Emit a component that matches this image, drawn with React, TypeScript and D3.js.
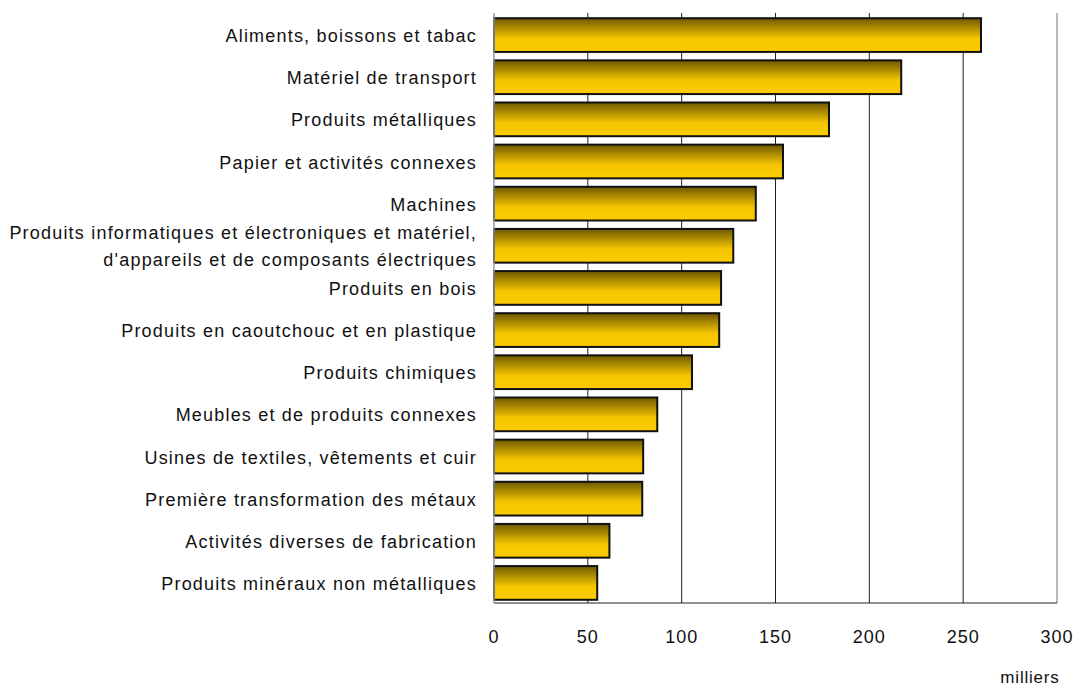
import React from "react";
import * as d3 from "d3";

const categories: string[][] = [
  ["Aliments, boissons et tabac"],
  ["Matériel de transport"],
  ["Produits métalliques"],
  ["Papier et activités connexes"],
  ["Machines"],
  ["Produits informatiques et électroniques et matériel,", "d'appareils et de composants électriques"],
  ["Produits en bois"],
  ["Produits en caoutchouc et en plastique"],
  ["Produits chimiques"],
  ["Meubles et de produits connexes"],
  ["Usines de textiles, vêtements et cuir"],
  ["Première transformation des métaux"],
  ["Activités diverses de fabrication"],
  ["Produits minéraux non métalliques"],
];
const values: number[] = [259.5, 217, 178.5, 154, 139.5, 127.5, 121, 120, 105.5, 87, 79.5, 79, 61.5, 55];
const ticks: number[] = [0, 50, 100, 150, 200, 250, 300];
const unitLabel = "milliers";

export default function App() {
  const W = 1076, H = 688;
  const left = 494, right = 1057, top = 13, bottom = 603;
  const x = d3.scaleLinear().domain([0, 300]).range([left, right]);
  const y = d3.scaleBand<number>().domain(d3.range(categories.length)).range([top, bottom]).paddingInner(0.2).paddingOuter(0.1);
  const font = "'Liberation Sans', Arial, sans-serif";
  return (
    <svg width={W} height={H} style={{ position: "absolute", left: 0, top: 0 }} fontFamily={font}>
      <defs>
        <linearGradient id="barg" x1="0" y1="0" x2="0" y2="1">
          <stop offset="0" stopColor="#6e5800" />
          <stop offset="0.6" stopColor="#f5c600" />
          <stop offset="1" stopColor="#fccc00" />
        </linearGradient>
      </defs>
      {ticks.slice(1).map((t) => (
        <line key={t} x1={x(t)} x2={x(t)} y1={top} y2={bottom} stroke={t === 300 ? "#777" : "#222"} strokeWidth={1} />
      ))}
      <line x1={left} x2={right} y1={bottom} y2={bottom} stroke="#222" strokeWidth={1.2} />
      {values.map((v, i) => (
        <rect key={i} x={x(0)} y={y(i)! + 1} width={x(v) - x(0)} height={y.bandwidth()} fill="url(#barg)" stroke="#111" strokeWidth={2} />
      ))}
      <line x1={left} x2={left} y1={top} y2={bottom} stroke="#999" strokeWidth={1.5} />
      {categories.map((c, i) => {
        const cy = y(i)! + y.bandwidth() / 2;
        const lh = 27;
        return (
          <text key={i} x={477} textAnchor="end" fontSize={18} letterSpacing={1.2} fill="#111">
            {c.map((line, j) => (
              <tspan key={j} x={477} y={cy + (j - (c.length - 1) / 2) * lh + 8}>{line}</tspan>
            ))}
          </text>
        );
      })}
      {ticks.map((t) => (
        <text key={t} x={x(t)} y={643} textAnchor="middle" fontSize={18} letterSpacing={1} fill="#111">{t}</text>
      ))}
      <text x={1030} y={683} textAnchor="middle" fontSize={17} letterSpacing={0.8} fill="#111">{unitLabel}</text>
    </svg>
  );
}
